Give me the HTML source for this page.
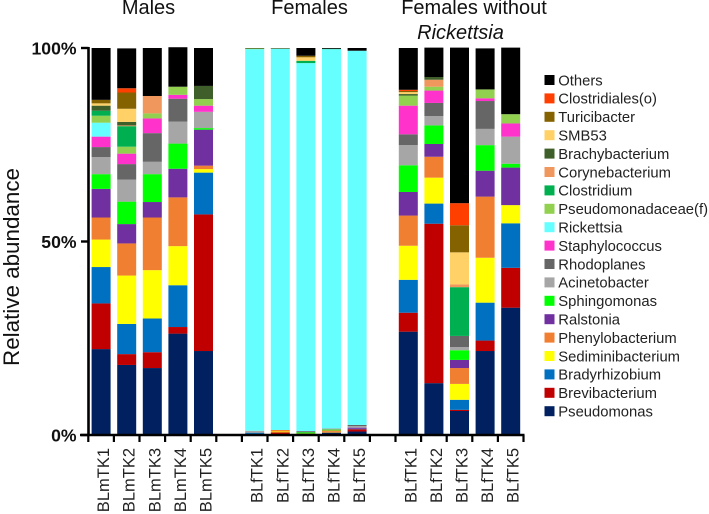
<!DOCTYPE html>
<html>
<head>
<meta charset="utf-8">
<title>Relative abundance chart</title>
<style>
html,body{margin:0;padding:0;background:#fff;}
svg{display:block;font-family:"Liberation Sans",Arial,sans-serif;}
</style>
</head>
<body>
<svg id="chart" width="709" height="514" viewBox="0 0 709 514" xmlns="http://www.w3.org/2000/svg">
<rect x="0" y="0" width="709" height="514" fill="#ffffff"/>
<text x="148.5" y="14" font-size="20" text-anchor="middle" fill="#111">Males</text>
<text x="309.5" y="14" font-size="20" text-anchor="middle" fill="#111">Females</text>
<text x="474" y="14" font-size="20" text-anchor="middle" fill="#111">Females without</text>
<text x="460.5" y="39" font-size="20" font-style="italic" text-anchor="middle" fill="#111">Rickettsia</text>
<text transform="translate(19,267) rotate(-90)" font-size="22.4" text-anchor="middle" fill="#111">Relative abundance</text>
</svg>
<script>
const axisSlots = ["BLmTK1","BLmTK2","BLmTK3","BLmTK4","BLmTK5","","BLfTK1","BLfTK2","BLfTK3","BLfTK4","BLfTK5","","BLfTK1","BLfTK2","BLfTK3","BLfTK4","BLfTK5"];
const yTicks = [0,50,100];
const yTickLabels = ["0%","50%","100%"];

const pseudomonas = [22.2,18.1,17.3,26.2,21.7, 0.3,0.2,0.1,0.6,0.9, 26.7,13.4,6.2,21.7,32.9];
const brevibacterium = [11.8,2.8,4.1,1.7,35.3, 0,0.5,0,0.1,0.6, 4.9,41.2,0.3,2.7,10.3];
const bradyrhizobium = [9.4,7.8,8.7,10.8,10.8, 0.3,0,0,0,0.1, 8.5,5.2,2.6,9.8,11.5];
const sediminibacterium = [7.1,12.5,12.5,10.1,0.9, 0,0.2,0,0.1,0, 8.8,6.7,4.1,11.6,4.7];
const phenylobacterium = [5.7,8.3,13.6,12.6,0.9, 0,0.4,0.3,0.4,0, 7.8,5.4,4.1,15.8,0];
const ralstonia = [7.4,5.0,4.0,7.4,9.3, 0,0,0,0,0.3, 6.1,3.3,2.1,6.7,9.7];
const sphingomonas = [3.8,5.8,7.2,6.5,0.4, 0,0,0.3,0.2,0, 6.9,4.8,2.5,6.6,1.0];
const acinetobacter = [4.4,5.7,3.2,5.7,4.2, 0.5,0,0,0.3,0.4, 5.2,2.4,0.8,4.2,7.0];
const rhodoplanes = [2.6,4.0,7.4,5.9,0, 0,0,0.3,0,0.3, 2.8,3.4,2.9,7.2,0];
const staphylococcus = [2.7,2.7,3.8,1.0,1.6, 0,0,0,0,0, 7.4,3.2,0,0.7,3.4];
const rickettsia = [3.6,0,0,0,0, 98.6,98.5,95.1,98.0,96.7, 0,0,0,0,0];
const pseudomonadaceae = [1.8,1.8,1.3,2.1,1.7, 0.2,0.1,0,0,0, 2.6,1.0,0,2.3,2.4];
const clostridium = [1.3,5.3,0,0,0, 0,0,0.6,0.1,0, 0,0,12.6,0,0];
const corynebacterium = [0,0.2,4.5,0,0, 0,0,0,0,0, 0,1.8,0.7,0,0];
const brachybacterium = [1.3,0.9,0,0,3.4, 0,0,0,0,0, 0.4,0.7,0,0,0];
const smb53 = [0.6,3.4,0,0,0, 0,0,0.9,0,0, 0.5,0,8.3,0,0];
const turicibacter = [0.9,4.2,0,0,0, 0,0,0.4,0,0, 0.3,0,7.0,0,0];
const clostridiales = [0,1.1,0,0,0, 0,0,0,0,0, 0.3,0,5.7,0,0];
const others = [13.4,10.3,12.4,10.2,9.8, 0.1,0.1,2.0,0.2,0.7, 10.8,7.6,40.2,10.6,17.2];

const seriesNames = ["Pseudomonas","Brevibacterium","Bradyrhizobium","Sediminibacterium","Phenylobacterium","Ralstonia","Sphingomonas","Acinetobacter","Rhodoplanes","Staphylococcus","Rickettsia","Pseudomonadaceae(f)","Clostridium","Corynebacterium","Brachybacterium","SMB53","Turicibacter","Clostridiales(o)","Others"];
const seriesValues = [pseudomonas,brevibacterium,bradyrhizobium,sediminibacterium,phenylobacterium,ralstonia,sphingomonas,acinetobacter,rhodoplanes,staphylococcus,rickettsia,pseudomonadaceae,clostridium,corynebacterium,brachybacterium,smb53,turicibacter,clostridiales,others];
const seriesColors = ["#002060","#c00000","#0070c0","#ffff00","#f07f32","#7030a0","#00ff00","#a6a6a6","#666666","#ff33cc","#66ffff","#92d050","#00b050","#f0975e","#3f5f2a","#ffd166","#846200","#ff3f00","#000000"];

const svg = document.getElementById('chart');
const NS = 'http://www.w3.org/2000/svg';
const yScale = v => 435 - v * 3.87;
const slotLeft = i => 88.3 + 25.6 * i;
const slotCenter = i => slotLeft(i) + 12.8;
const barWidth = 19;

function make(tag, attrs, parent) {
  const el = document.createElementNS(NS, tag);
  for (const k in attrs) el.setAttribute(k, attrs[k]);
  (parent || svg).appendChild(el);
  return el;
}

let sampleIndex = 0;
axisSlots.forEach((label, slot) => {
  if (!label) return;
  let total = 0;
  seriesValues.forEach((values, s) => {
    const v = values[sampleIndex];
    if (v > 0) {
      const top = yScale(total + v);
      const seg = make('rect', {x: slotCenter(slot) - barWidth / 2, y: top, width: barWidth, height: yScale(total) - top, fill: seriesColors[s]});
      
      
    }
    total += v;
  });
  const t = make('text', {transform: 'translate(' + (slotCenter(slot) + 8) + ',448) rotate(-90)', 'font-size': 16.5, 'text-anchor': 'end', fill: '#222'});
  
  
  t.textContent = label;
  sampleIndex++;
});

const yAxis = make('line', {x1: 88.5, x2: 88.5, y1: yScale(100) - 1, y2: yScale(0) + 1, stroke: '#000', 'stroke-width': 2.6});



const xAxis = make('line', {x1: 80, x2: slotLeft(axisSlots.length) + 1, y1: yScale(0), y2: yScale(0), stroke: '#000', 'stroke-width': 2.6});



for (let i = 0; i <= axisSlots.length; i++) {
  const tick = make('line', {x1: slotLeft(i), x2: slotLeft(i), y1: yScale(0), y2: yScale(0) + 7, stroke: '#000', 'stroke-width': 2.2});
  
  
}

yTicks.forEach((v, i) => {
  const tick = make('line', {x1: 81, x2: 88.5, y1: yScale(v), y2: yScale(v), stroke: '#000', 'stroke-width': 2.4});
  
  
  const lab = make('text', {x: 76.5, y: yScale(v) + 6.5, 'font-size': 17.6, 'font-weight': 'bold', 'text-anchor': 'end', fill: '#111'});
  
  
  lab.textContent = yTickLabels[i];
});

seriesNames.slice().reverse().forEach((name, i) => {
  const color = seriesColors[seriesNames.length - 1 - i];
  const cy = 80 + i * 18.4;
  const group = make('g', {});
  
  
  const sw = make('rect', {x: 544.5, y: cy - 5, width: 10, height: 10, fill: color}, group);
  
  
  const tx = make('text', {x: 558.3, y: cy + 5.3, 'font-size': 14.8, fill: '#222'}, group);
  
  
  tx.textContent = name;
});
</script>
</body>
</html>
